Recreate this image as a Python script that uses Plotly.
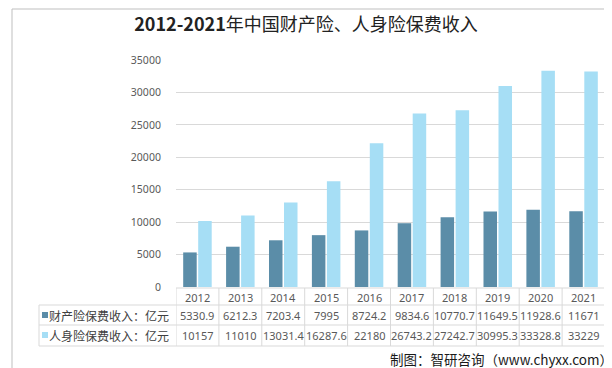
import plotly.graph_objects as go

# ---- data ----
years = ["2012", "2013", "2014", "2015", "2016", "2017", "2018", "2019", "2020", "2021"]
property_premium = [5330.9, 6212.3, 7203.4, 7995, 8724.2, 9834.6, 10770.7, 11649.5, 11928.6, 11671]
life_premium = [10157, 11010, 13031.4, 16287.6, 22180, 26743.2, 27242.7, 30995.3, 33328.8, 33229]
series_names = ["财产险保费收入：亿元", "人身险保费收入：亿元"]
title_text = "<b>2012-2021</b>年中国财产险、人身险保费收入"
source_text = "制图：智研咨询（www.chyxx.com）"

W, H = 612, 368
L, R, T, B = 168, 597, 52, 279  # plot area in pixels

def px(xp):
    return (xp - L) / (R - L)

def py(yp):
    return (B - yp) / (B - T)

DARK = "#5B8DA8"
LIGHT = "#A6DEF5"
GRID = "#D9D9D9"
TXT = "#595959"

fig = go.Figure()
fig.add_trace(go.Bar(x=years, y=property_premium, name=series_names[0],
                     marker=dict(color=DARK, line=dict(width=0))))
fig.add_trace(go.Bar(x=years, y=life_premium, name=series_names[1],
                     marker=dict(color=LIGHT, line=dict(width=0))))

shapes = []
annotations = []

line_style = dict(color=GRID, width=1)
# horizontal table lines
shapes.append(dict(type="line", xref="paper", yref="paper", x0=0, x1=1, y0=py(280), y1=py(280), line=line_style))
for yy in (297, 317, 338):
    shapes.append(dict(type="line", xref="paper", yref="paper", x0=px(31), x1=1, y0=py(yy), y1=py(yy), line=line_style))
# vertical lines
shapes.append(dict(type="line", xref="paper", yref="paper", x0=px(31), x1=px(31), y0=py(297), y1=py(338), line=line_style))
for k in range(len(years) + 1):
    shapes.append(dict(type="line", xref="x", yref="paper", x0=k - 0.5, x1=k - 0.5,
                       y0=py(280), y1=py(338), line=line_style))

# legend keys in table
shapes.append(dict(type="rect", xref="paper", yref="paper", x0=px(34), x1=px(40), y0=py(304), y1=py(310),
                   fillcolor=DARK, line=dict(width=0)))
shapes.append(dict(type="rect", xref="paper", yref="paper", x0=px(34), x1=px(40), y0=py(324), y1=py(330),
                   fillcolor=LIGHT, line=dict(width=0)))

# outer border
shapes.append(dict(type="rect", xref="paper", yref="paper", x0=px(4), x1=px(609), y0=py(1), y1=py(363),
                   line=dict(color="#BFBFBF", width=1), fillcolor="rgba(0,0,0,0)"))

num_font = dict(family="Noto Sans, sans-serif", size=11, color=TXT)
cjk_font = dict(family="Noto Sans CJK SC, sans-serif", size=12, color="#404040")

n = len(years)
for i, yr in enumerate(years):
    cx = (i + 0.5) / n
    annotations.append(dict(x=cx, y=py(289), xref="paper", yref="paper", text=yr, showarrow=False,
                            font=num_font, xanchor="center", yanchor="middle"))
    annotations.append(dict(x=cx, y=py(307), xref="paper", yref="paper", text=f"{property_premium[i]:g}",
                            showarrow=False, font=num_font, xanchor="center", yanchor="middle"))
    annotations.append(dict(x=cx, y=py(327.5), xref="paper", yref="paper", text=f"{life_premium[i]:g}",
                            showarrow=False, font=num_font, xanchor="center", yanchor="middle"))

annotations.append(dict(x=px(39), y=py(307), xref="paper", yref="paper", text=series_names[0],
                        showarrow=False, font=cjk_font, xanchor="left", yanchor="middle"))
annotations.append(dict(x=px(39), y=py(327.5), xref="paper", yref="paper", text=series_names[1],
                        showarrow=False, font=cjk_font, xanchor="left", yanchor="middle"))

# source
annotations.append(dict(x=px(607), y=py(351), xref="paper", yref="paper", text=source_text,
                        showarrow=False, font=dict(family="Noto Sans CJK SC, sans-serif", size=13.5, color="#1a1a1a"),
                        xanchor="right", yanchor="middle"))

fig.update_layout(
    width=W, height=H,
    margin=dict(l=L, r=W - R, t=T, b=H - B, pad=0),
    paper_bgcolor="white", plot_bgcolor="white",
    title=dict(text=title_text, x=px(298), xref="paper", xanchor="center", y=1 - 17 / H, yanchor="middle",
               font=dict(family="Noto Sans CJK SC, sans-serif", size=18, color="#222222")),
    barmode="group", bargap=0.3, bargroupgap=0.1,
    showlegend=False,
    xaxis=dict(type="category", showticklabels=False, showgrid=False, showline=False, ticks="",
               range=[-0.5, len(years) - 0.5], fixedrange=True),
    yaxis=dict(range=[0, 35000], dtick=5000, tickformat="d", showgrid=True, gridcolor=GRID, gridwidth=1,
               zeroline=False, showline=False, ticks="outside", ticklen=12, tickcolor="rgba(0,0,0,0)",
               tickfont=dict(family="Noto Sans, sans-serif", size=10.5, color=TXT), fixedrange=True),
    shapes=shapes, annotations=annotations,
)

fig.write_html("out.html")
